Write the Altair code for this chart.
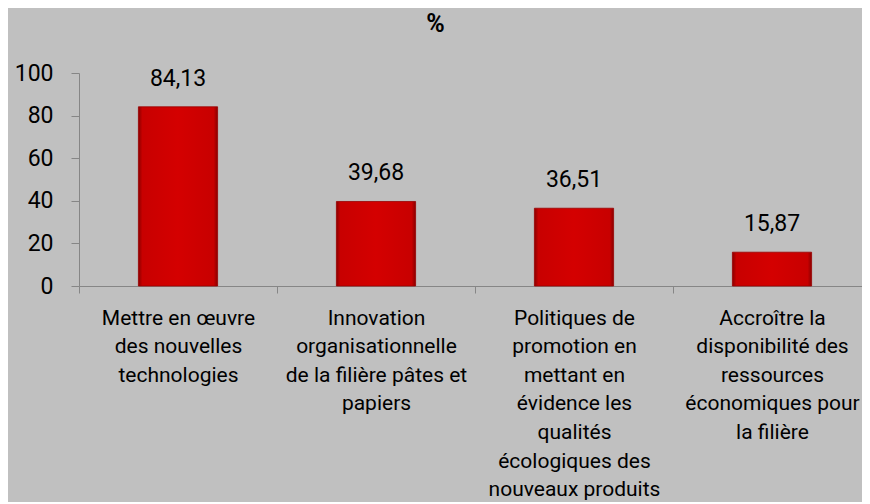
import altair as alt
import pandas as pd

categories = [
    "Mettre en œuvre\ndes nouvelles\ntechnologies",
    "Innovation\norganisationnelle\nde la filière pâtes et\npapiers",
    "Politiques de\npromotion en\nmettant en\névidence les\nqualités\nécologiques des\nnouveaux produits",
    "Accroître la\ndisponibilité des\nressources\néconomiques pour\nla filière",
]
values = [84.13, 39.68, 36.51, 15.87]
labels = ["84,13", "39,68", "36,51", "15,87"]
y_ticks = [0, 20, 40, 60, 80, 100]

df = pd.DataFrame({"cat": categories, "val": values, "lab": labels})

FONT = "Roboto"

x_enc = alt.X(
    "cat:N",
    sort=categories,
    title=None,
    scale=alt.Scale(paddingInner=0, paddingOuter=0, range=[0, 792]),
    axis=alt.Axis(
        labelExpr="split(datum.label, '\\n')",
        labelAngle=0,
        labelAlign="center",
        labelBaseline="top",
        labelLineHeight=28.6,
        labelFontSize=21,
        labelFont=FONT,
        labelColor="#000000",
        labelPadding=14,
        labelLimit=0,
        tickBand="extent",
        tickSize=7,
        tickColor="#868686",
        domainColor="#868686",
        domainWidth=1,
        grid=False,
    ),
)

y_enc = alt.Y(
    "val:Q",
    title=None,
    scale=alt.Scale(domain=[0, 100], nice=False),
    axis=alt.Axis(
        values=y_ticks,
        labelFontSize=23,
        labelFont=FONT,
        labelColor="#000000",
        labelPadding=18,
        tickSize=8,
        tickColor="#868686",
        domainColor="#868686",
        grid=False,
    ),
)

bar_fill = alt.Gradient(
    gradient="linear",
    x1=0, x2=1, y1=0, y2=0,
    stops=[
        alt.GradientStop(color="#8a0000", offset=0),
        alt.GradientStop(color="#c80000", offset=0.05),
        alt.GradientStop(color="#d40000", offset=0.5),
        alt.GradientStop(color="#c80000", offset=0.95),
        alt.GradientStop(color="#8a0000", offset=1),
    ],
)

bars = alt.Chart(df).mark_bar(
    width=alt.RelativeBandSize(0.4),
    fill=bar_fill,
    stroke="#990000",
    strokeWidth=0.8,
).encode(x=x_enc, y=y_enc)

texts = alt.Chart(df).mark_text(
    baseline="alphabetic",
    align="center",
    dy=-21,
    fontSize=23,
    font=FONT,
    color="#000000",
).encode(x=alt.X("cat:N", sort=categories), y="val:Q", text="lab:N")

chart = (
    alt.layer(bars, texts)
    .properties(
        width=783,
        height=213,
        autosize=alt.AutoSizeParams(type="none"),
        padding={"left": 71, "top": 65, "right": 0, "bottom": 216},
        background="#c0c0c0",
        title=alt.TitleParams(
            text="%",
            fontSize=25,
            fontWeight="bold",
            font=FONT,
            color="#000000",
            anchor="middle",
            dx=-35,
            offset=5,
            baseline="alphabetic",
        ),
    )
    .configure_view(stroke=None)
)

chart.save("out.html", embed_options={"renderer": "svg", "actions": False})
